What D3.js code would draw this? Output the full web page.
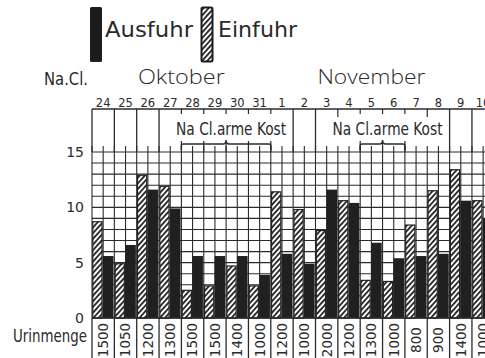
<!DOCTYPE html>
<html>
<head>
<meta charset="utf-8">
<script src="https://cdn.jsdelivr.net/npm/d3@7"></script>
<style>
  html, body { margin: 0; padding: 0; background: #fff; }
  svg { display: block; }
  text { font-family: "DejaVu Sans", "Noto Sans", sans-serif; fill: #2a2a2a; }
  .thin { font-family: "Open Sans", "Lato", "DejaVu Sans", sans-serif; font-weight: 300; }
  .narrow { font-family: "DejaVu Sans Condensed", "Liberation Sans Narrow", "DejaVu Sans", sans-serif; }
</style>
</head>
<body>
<svg id="chart" width="485" height="358"></svg>
<script>
// Daily NaCl balance (grams): intake (Einfuhr) vs. output (Ausfuhr), Oct 24 – Nov 10
const days     = ["24","25","26","27","28","29","30","31","1","2","3","4","5","6","7","8","9","10"];
const einfuhr  = [8.7, 4.9, 12.9, 11.9, 2.5, 2.9, 4.7, 2.9, 11.4, 9.8, 7.9, 10.6, 3.4, 3.3, 8.4, 11.5, 13.4, 10.6];
const ausfuhr  = [5.6, 6.6, 11.6, 9.9, 5.6, 5.6, 5.6, 3.9, 5.8, 4.9, 11.6, 10.4, 6.8, 5.4, 5.6, 5.8, 10.6, 9.0];
const urinmenge = [1500, 1050, 1200, 1300, 1500, 1500, 1400, 1000, 1200, 1000, 2000, 1200, 1300, 1000, 800, 900, 1400, 1000];
const yTicks   = [0, 5, 10, 15];
const months   = [{ name: "Oktober", from: "26", to: "29" }, { name: "November", from: "3", to: "7" }];
// periods of salt-poor diet: label and brace span
const dietPeriods = [
  { label: "Na Cl.arme Kost", braceFrom: "28", braceTo: "31" },
  { label: "Na Cl.arme Kost", braceFrom: "5",  braceTo: "6" }
];
// header day boundaries drawn as full lines / as short ticks
const fullDividers = [0, 1, 2, 3, 9, 10, 16, 17, 18];
const tickDividers = [4, 5, 6, 7, 8, 11, 12, 13, 14, 15];

const svg = d3.select("#chart");
const ink = "#2b2b2b";

const left = 92, dayW = 22.35;
const x = d3.scaleBand().domain(days).range([left, left + days.length * dayW]).padding(0);
const y = d3.scaleLinear().domain([0, 15]).range([318, 152]);
const headTop = 109, bottom = 358;

// hatch pattern for intake bars
const defs = svg.append("defs");
const pat = defs.append("pattern")
  .attr("id", "hatch").attr("patternUnits", "userSpaceOnUse")
  .attr("width", 3.8).attr("height", 10)
  .attr("patternTransform", "rotate(42)");
pat.append("rect").attr("width", 3.8).attr("height", 10).attr("fill", "#fff");
pat.append("rect").attr("width", 1.8).attr("height", 10).attr("fill", "#222");

// grid: one row per gram, one column per half day
const halfCols = d3.range(0, days.length * 2 + 1);
const gx = k => left + k * dayW / 2;
svg.append("g").selectAll("line").data(d3.range(0, 16)).join("line")
  .attr("x1", left).attr("x2", 485)
  .attr("y1", d => y(d)).attr("y2", d => y(d))
  .attr("stroke", ink).attr("stroke-width", 1.1);
svg.append("g").selectAll("line").data(halfCols).join("line")
  .attr("x1", gx).attr("x2", gx)
  .attr("y1", 146).attr("y2", y(0))
  .attr("stroke", ink).attr("stroke-width", 1.1);

// header box
const dx = k => left + k * dayW;
svg.append("line").attr("x1", left).attr("x2", 485).attr("y1", headTop).attr("y2", headTop)
  .attr("stroke", ink).attr("stroke-width", 1.3);
svg.append("g").selectAll("line").data(fullDividers).join("line")
  .attr("x1", dx).attr("x2", dx).attr("y1", headTop).attr("y2", y(15))
  .attr("stroke", ink).attr("stroke-width", 1.3);
svg.append("g").selectAll("line").data(tickDividers).join("line")
  .attr("x1", dx).attr("x2", dx).attr("y1", headTop)
  .attr("y2", k => (k === 11 || k === 15) ? 117 : 114)
  .attr("stroke", ink).attr("stroke-width", 1.2);

// day labels
svg.append("g").selectAll("text").data(days).join("text")
  .attr("x", d => x(d) + x.bandwidth() / 2).attr("y", 106.5)
  .attr("text-anchor", "middle").attr("font-size", 11.5)
  .text(d => d);

// month labels
svg.append("g").selectAll("text").data(months).join("text")
  .attr("class", "thin")
  .attr("x", m => (x(m.from) + x(m.to) + x.bandwidth()) / 2)
  .attr("y", 84).attr("text-anchor", "middle").attr("font-size", 20)
  .attr("textLength", m => m.name === "Oktober" ? 87 : 108)
  .attr("lengthAdjust", "spacingAndGlyphs")
  .text(m => m.name);

svg.append("text").attr("class", "narrow").attr("x", 44).attr("y", 85).attr("font-size", 17)
  .attr("textLength", 44).attr("lengthAdjust", "spacingAndGlyphs").text("Na.Cl.");

// diet periods with braces
dietPeriods.forEach(p => {
  const x0 = x(p.braceFrom), x1 = x(p.braceTo) + x.bandwidth();
  const cx = (x0 + x1) / 2, by = 144;
  svg.append("text").attr("class", "narrow").attr("x", cx + 5).attr("y", 134.5)
    .attr("text-anchor", "middle")
    .attr("font-size", 18.5).attr("textLength", 110).attr("lengthAdjust", "spacingAndGlyphs")
    .text(p.label);
  const path = d3.path();
  path.moveTo(x0, by + 6); path.lineTo(x0, by + 1); path.quadraticCurveTo(x0, by, x0 + 2, by);
  path.lineTo(cx - 3, by); path.quadraticCurveTo(cx, by, cx, by - 4);
  path.quadraticCurveTo(cx, by, cx + 3, by);
  path.lineTo(x1 - 2, by); path.quadraticCurveTo(x1, by, x1, by + 1); path.lineTo(x1, by + 6);
  svg.append("path").attr("d", path.toString()).attr("fill", "none")
    .attr("stroke", ink).attr("stroke-width", 1.4);
  const i0 = days.indexOf(p.braceFrom), i1 = days.indexOf(p.braceTo) + 1;
  svg.append("g").selectAll("line").data(d3.range(i0, i1 + 1)).join("line")
    .attr("x1", dx).attr("x2", dx).attr("y1", by - 3).attr("y2", y(15))
    .attr("stroke", ink).attr("stroke-width", 1.2);
});

// bars: intake (hatched) then output (black) within each day
const bars = svg.append("g");
bars.selectAll("rect.ein").data(days).join("rect").attr("class", "ein")
  .attr("x", d => x(d) + 0.8).attr("width", 9.2)
  .attr("y", (d, i) => y(einfuhr[i])).attr("height", (d, i) => y(0) - y(einfuhr[i]))
  .attr("fill", "url(#hatch)").attr("stroke", "#222").attr("stroke-width", 1.2);
bars.selectAll("rect.aus").data(days).join("rect").attr("class", "aus")
  .attr("x", d => x(d) + 10.9).attr("width", 10.6)
  .attr("y", (d, i) => y(ausfuhr[i])).attr("height", (d, i) => y(0) - y(ausfuhr[i]))
  .attr("fill", "#202020");

// y axis labels
svg.append("g").selectAll("text").data(yTicks).join("text")
  .attr("x", 84).attr("y", d => y(d)).attr("dy", "0.36em")
  .attr("text-anchor", "end").attr("font-size", 14).attr("fill", "#3a3a3a").text(d => d);

// base line and urine volume row
svg.append("line").attr("x1", left).attr("x2", 485).attr("y1", y(0)).attr("y2", y(0))
  .attr("stroke", ink).attr("stroke-width", 1.6);
svg.append("g").selectAll("line").data(d3.range(0, days.length + 1)).join("line")
  .attr("x1", dx).attr("x2", dx).attr("y1", y(0)).attr("y2", bottom)
  .attr("stroke", ink).attr("stroke-width", 1.3);
svg.append("g").selectAll("text").data(days).join("text")
  .attr("transform", (d) => `translate(${x(d) + x.bandwidth() / 2},340) rotate(-90)`)
  .attr("text-anchor", "middle").attr("dy", "0.36em").attr("font-size", 13.5)
  .text((d, i) => urinmenge[i]);
svg.append("text").attr("class", "narrow").attr("x", 13).attr("y", 342).attr("font-size", 18)
  .attr("textLength", 74).attr("lengthAdjust", "spacingAndGlyphs").text("Urinmenge");

// legend
svg.append("rect").attr("x", 90).attr("y", 7).attr("width", 12).attr("height", 55)
  .attr("fill", "#1c1c1c").attr("rx", 1.5);
svg.append("text").attr("x", 105).attr("y", 37).attr("font-size", 22)
  .attr("textLength", 88).attr("lengthAdjust", "spacingAndGlyphs").text("Ausfuhr");
svg.append("rect").attr("x", 201.5).attr("y", 7.5).attr("width", 11).attr("height", 54)
  .attr("fill", "url(#hatch)").attr("stroke", "#1c1c1c").attr("stroke-width", 2).attr("rx", 1.5);
svg.append("text").attr("x", 218).attr("y", 37).attr("font-size", 22)
  .attr("textLength", 79).attr("lengthAdjust", "spacingAndGlyphs").text("Einfuhr");
</script>
</body>
</html>
